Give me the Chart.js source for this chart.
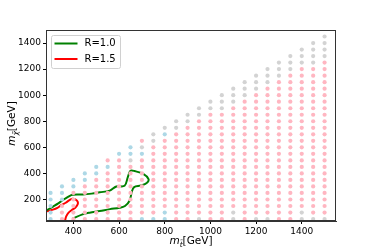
<!DOCTYPE html>
<html>
<head>
<meta charset="utf-8">
<script src="https://cdn.jsdelivr.net/npm/chart.js@4.4.1/dist/chart.umd.min.js"></script>
<style>
html, body { margin: 0; padding: 0; background: #fff; }
#chart { display: block; }
</style>
</head>
<body>
<canvas id="chart" width="374" height="249"></canvas>
<script>
// stop masses (columns) and neutralino masses (rows), GeV
var stopMass = [300, 350, 400, 450, 500, 550, 600, 650, 700, 750, 800, 850, 900,
    950, 1000, 1050, 1100, 1150, 1200, 1250, 1300, 1350, 1400, 1450, 1500];
var chiMass = [50, 100, 150, 200, 250, 300, 350, 400, 450, 500, 550, 600, 650, 700,
    750, 800, 850, 900, 950, 1000, 1050, 1100, 1150, 1200, 1250, 1300, 1350, 1400, 1450];

// status of each grid point, bottom to top, run length: b = blue, p = pink, g = grey
var pointRuns = [
    "5b",
    "3p 3b",
    "5p 2b",
    "6p 2b",
    "7p 2b",
    "8p 1b 1p",
    "10p 1b",
    "9p 1g 2b",
    "1b 9p 1b 1g 1p",
    "1b 11p 2g",
    "2b 11p 1b 1g",
    "14p 2g",
    "15p 2g",
    "1g 15p 2g",
    "17p 2g",
    "17p 3g",
    "2g 16p 3g",
    "19p 3g",
    "1g 19p 3g",
    "1g 20p 3g",
    "22p 3g",
    "23p 3g",
    "2g 22p 3g",
    "1g 23p 4g",
    "1g 24p 4g"
];

// contour lines
var contourR10 = [
    {x: 278, y: 112}, {x: 311, y: 146}, {x: 332, y: 168}, {x: 356, y: 198},
    {x: 380, y: 224}, {x: 396, y: 236}, {x: 442, y: 238}, {x: 480, y: 245},
    {x: 515, y: 255}, {x: 559, y: 268}, {x: 588, y: 300}, {x: 624, y: 305},
    {x: 638, y: 370}, {x: 650, y: 420}, {x: 668, y: 418}, {x: 706, y: 396},
    {x: 729, y: 356}, {x: 721, y: 326}, {x: 696, y: 307}, {x: 666, y: 295},
    {x: 656, y: 260}, {x: 646, y: 190}, {x: 626, y: 150}, {x: 602, y: 136},
    {x: 560, y: 126}, {x: 515, y: 111}, {x: 471, y: 99}, {x: 440, y: 86},
    {x: 396, y: 52}
];
var contourR15 = [
    {x: 278, y: 106}, {x: 310, y: 122}, {x: 330, y: 136}, {x: 348, y: 158},
    {x: 366, y: 175}, {x: 381, y: 193}, {x: 395, y: 205}, {x: 410, y: 199},
    {x: 419, y: 182}, {x: 418, y: 160}, {x: 408, y: 137}, {x: 392, y: 118},
    {x: 378, y: 98}, {x: 369, y: 72}, {x: 365, y: 50}, {x: 364, y: 36}
];
var legendLabels = ['R=1.0', 'R=1.5'];
var xTicks = [400, 600, 800, 1000, 1200, 1400];
var yTicks = [200, 400, 600, 800, 1000, 1200, 1400];

var dotColours = { p: '#ffb6c1', g: '#d3d3d3', b: '#add8e6' };
var lineColours = ['#008000', '#ff0000'];

var groups = { p: [], g: [], b: [] };
for (var i = 0; i < stopMass.length; i++) {
    var k = 0;
    pointRuns[i].split(' ').forEach(function (run) {
        var n = parseInt(run, 10);
        var c = run.charAt(run.length - 1);
        for (var j = 0; j < n; j++) {
            groups[c].push({ x: stopMass[i], y: chiMass[k] });
            k++;
        }
    });
}

function dots(code) {
    return {
        data: groups[code],
        backgroundColor: dotColours[code],
        borderWidth: 0,
        pointRadius: 2.1,
        pointHoverRadius: 2.1
    };
}
function contour(pts, colour) {
    return {
        data: pts,
        showLine: true,
        borderColor: colour,
        borderWidth: 2,
        pointRadius: 0,
        tension: 0.35,
        fill: false
    };
}

var font = 'DejaVu Sans';

// framed box, inset legend and axis titles
var extras = {
    id: 'extras',
    afterDraw: function (chart) {
        var c = chart.ctx, a = chart.chartArea;
        c.save();
        c.strokeStyle = '#333';
        c.lineWidth = 1;
        c.strokeRect(a.left + 0.5, a.top + 0.5, a.right - a.left - 1, a.bottom - a.top - 1);

        // legend
        var lx = a.left + 5.5, ly = a.top + 5.5, w = 69, h = 33;
        c.fillStyle = 'rgba(255,255,255,0.8)';
        c.strokeStyle = '#d0d0d0';
        c.beginPath();
        if (c.roundRect) { c.roundRect(lx, ly, w, h, 2); } else { c.rect(lx, ly, w, h); }
        c.fill();
        c.stroke();
        c.font = '10px ' + font;
        c.textBaseline = 'middle';
        c.textAlign = 'left';
        for (var i = 0; i < legendLabels.length; i++) {
            var yy = ly + 8 + i * 15.5;
            c.strokeStyle = lineColours[i];
            c.lineWidth = 2;
            c.beginPath();
            c.moveTo(lx + 3, yy);
            c.lineTo(lx + 26, yy);
            c.stroke();
            c.fillStyle = '#000';
            c.fillText(legendLabels[i], lx + 33, yy);
        }

        // axis titles: m_{t~}[GeV] and m_{chi~}[GeV]
        function title(sub, cx, cy, rot) {
            c.save();
            c.translate(cx, cy);
            c.rotate(rot);
            c.fillStyle = '#000';
            c.textBaseline = 'alphabetic';
            c.font = 'italic 10.5px ' + font;
            var w1 = c.measureText('m').width;
            c.font = 'italic 7.5px ' + font;
            var w2 = c.measureText(sub).width;
            c.font = '10.5px ' + font;
            var w3 = c.measureText('[GeV]').width;
            var x0 = -(w1 + w2 + w3) / 2;
            c.font = 'italic 10.5px ' + font;
            c.fillText('m', x0, 4);
            c.font = 'italic 7.5px ' + font;
            c.fillText(sub, x0 + w1, 6.5);
            c.font = '10.5px ' + font;
            c.fillText('[GeV]', x0 + w1 + w2, 4);
            c.restore();
        }
        title('t\u0303', (a.left + a.right) / 2, 240, 0);
        title('\u03c7\u0303', 11, (a.top + a.bottom) / 2 - 2, -Math.PI / 2);
        c.restore();
    }
};

function plainTick(v) { return String(v); }

function axisStyle() {
    return {
        grid: { drawOnChartArea: false, drawTicks: true, tickLength: 3, color: '#000' },
        border: { display: true, color: '#333' },
        ticks: { color: '#000', font: { family: font, size: 9 }, padding: 2, maxRotation: 0, callback: plainTick }
    };
}

new Chart(document.getElementById('chart').getContext('2d'), {
    type: 'scatter',
    data: {
        datasets: [dots('p'), dots('g'), dots('b'),
            contour(contourR10, lineColours[0]), contour(contourR15, lineColours[1])]
    },
    options: {
        responsive: false,
        animation: false,
        events: [],
        layout: { padding: { top: 30, right: 38, left: 0, bottom: 0 } },
        plugins: { legend: { display: false }, tooltip: { enabled: false } },
        scales: {
            x: Object.assign(axisStyle(), {
                type: 'linear', min: 280, max: 1550,
                afterBuildTicks: function (s) { s.ticks = xTicks.map(function (v) { return { value: v }; }); },
                afterFit: function (s) { s.height = 28; }
            }),
            y: Object.assign(axisStyle(), {
                type: 'linear', min: 35, max: 1500,
                afterBuildTicks: function (s) { s.ticks = yTicks.map(function (v) { return { value: v }; }); },
                afterFit: function (s) { s.width = 46; }
            })
        }
    },
    plugins: [extras]
});
</script>
</body>
</html>
